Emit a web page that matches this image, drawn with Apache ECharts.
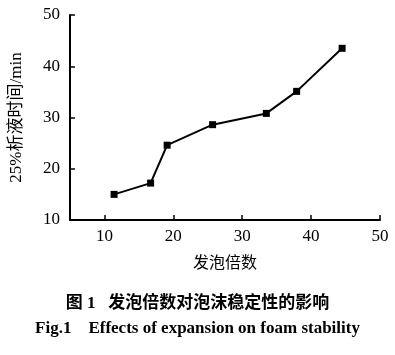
<!DOCTYPE html>
<html><head><meta charset="utf-8">
<script src="https://cdn.jsdelivr.net/npm/echarts@6/dist/echarts.min.js"></script>
<style>html,body{margin:0;padding:0;background:#fff}#c{width:395px;height:355px}</style>
</head><body><div id="c"></div>
<script>
const expansion = [11.4, 16.7, 19.1, 25.7, 33.5, 37.9, 44.5];
const drainTime = [15.0, 17.2, 24.6, 28.6, 30.8, 35.1, 43.5];
const xTicks = [10, 20, 30, 40, 50];
const yTicks = [10, 20, 30, 40, 50];
const xName = '发泡倍数';
const yName = '25%析液时间/min';
const caption1 = '图 1   发泡倍数对泡沫稳定性的影响';
const caption2 = 'Fig.1    Effects of expansion on foam stability';

const serif = '"Liberation Serif", "Noto Sans CJK SC", serif';
const chart = echarts.init(document.getElementById('c'), null, {renderer: 'canvas'});
chart.setOption({
  animation: false,
  backgroundColor: '#fff',
  grid: {left: 70, top: 15, right: 15, bottom: 135, containLabel: false},
  title: [
    {text: caption1, left: 'center', top: 290, textStyle: {fontFamily: serif, fontSize: 17, fontWeight: 'bold', color: '#000'}},
    {text: caption2, left: 'center', top: 315, textStyle: {fontFamily: serif, fontSize: 17, fontWeight: 'bold', color: '#000'}}
  ],
  xAxis: {
    type: 'value', min: 5, max: 50,
    name: xName, nameLocation: 'middle', nameGap: 36,
    nameTextStyle: {fontFamily: serif, fontSize: 16, color: '#000'},
    axisLine: {show: true, lineStyle: {color: '#000', width: 2}},
    axisTick: {show: true, inside: true, length: 5, customValues: xTicks, lineStyle: {color: '#000', width: 1.5}},
    axisLabel: {customValues: xTicks, margin: 8, fontFamily: serif, fontSize: 17, color: '#000'},
    splitLine: {show: false}
  },
  yAxis: {
    type: 'value', min: 10, max: 50, interval: 10,
    name: yName, nameLocation: 'middle', nameGap: 45, nameRotate: 90,
    nameTextStyle: {fontFamily: serif, fontSize: 17, color: '#000'},
    axisLine: {show: true, lineStyle: {color: '#000', width: 2}},
    axisTick: {show: true, inside: true, length: 5, lineStyle: {color: '#000', width: 1.5}},
    axisLabel: {customValues: yTicks, margin: 10, fontFamily: serif, fontSize: 17, color: '#000'},
    splitLine: {show: false}
  },
  series: [{
    type: 'line',
    data: expansion.map((x, i) => [x, drainTime[i]]),
    symbol: 'rect', symbolSize: 7,
    lineStyle: {color: '#000', width: 2},
    itemStyle: {color: '#000'}
  }]
});
</script></body></html>
